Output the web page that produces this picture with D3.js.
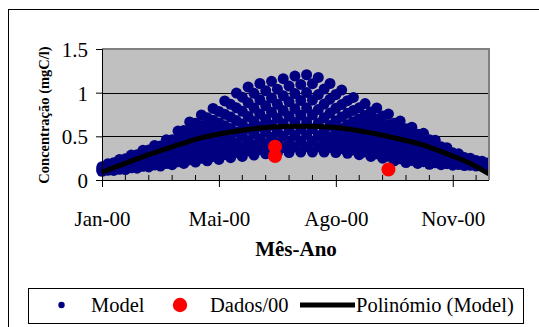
<html>
<style>
  body { margin: 0; background: #ffffff; }
</style>
<script src="https://d3js.org/d3.v7.min.js"></script>
<body>
<svg id="chart" width="539" height="327"></svg>
</body>
<script>
  const FONT = "Liberation Serif"

  // x axis counts days from the first tick (Jan-00)
  const xTickDays = [0, 100, 200, 300]
  const xTickLabels = ['Jan-00', 'Mai-00', 'Ago-00', 'Nov-00']
  const xMinorDays = [20, 40, 60, 80, 120, 140, 160, 180, 220, 240, 260, 280, 320]
  const yTicks = [0, 0.5, 1, 1.5]

  // model cloud, read as bands from bottom to top; two interleaved day grids
  const modelDaysA = [0,10,20,30,40,50,60,70,80,90,100,110,120,130,140,150,160,170,180,190,200,210,220,230,240,250,260,270,280,290,300,310,320,330]
  const modelDaysB = [5,15,25,35,45,55,65,75,85,95,105,115,125,135,145,155,165,175,185,195,205,215,225,235,245,255,265,275,285,295,305,315,325]
  const modelA = [
    [.10,.11,.12,.135,.15,.16,.175,.19,.205,.22,.235,.255,.27,.285,.30,.31,.315,.32,.32,.32,.315,.305,.29,.27,.25,.22,.20,.19,.18,.175,.17,.165,.16,.155],
    [.108,.124,.14,.16,.181,.196,.221,.25,.276,.298,.323,.352,.378,.398,.415,.426,.436,.443,.445,.435,.421,.401,.375,.351,.327,.289,.262,.243,.225,.208,.192,.18,.17,.161],
    [.118,.14,.162,.188,.216,.238,.273,.319,.357,.388,.423,.464,.501,.527,.546,.559,.575,.584,.587,.566,.542,.511,.473,.444,.415,.367,.332,.304,.276,.246,.218,.197,.181,.169],
    [.129,.158,.187,.219,.256,.285,.331,.396,.447,.489,.535,.589,.64,.671,.694,.708,.73,.742,.747,.714,.677,.634,.583,.548,.514,.455,.411,.372,.334,.288,.247,.215,.194,.177],
    [.14,.177,.214,.252,.297,.334,.393,.478,.543,.595,.654,.721,.786,.824,.849,.866,.895,.91,.916,.869,.821,.764,.699,.659,.619,.548,.495,.445,.394,.332,.277,.235,.207,.185],
    [.153,.198,.243,.289,.344,.389,.461,.568,.649,.713,.785,.867,.948,.993,1.022,1.04,1.076,1.094,1.103,1.042,.979,.908,.827,.78,.734,.651,.587,.524,.462,.382,.311,.257,.222,.195]
  ]
  const modelB = [
    [.111,.123,.139,.157,.172,.188,.209,.231,.25,.269,.291,.314,.333,.35,.363,.372,.379,.382,.38,.373,.36,.343,.322,.30,.271,.243,.224,.21,.197,.187,.177,.169,.162],
    [.123,.141,.162,.186,.208,.232,.266,.301,.33,.358,.39,.424,.451,.472,.487,.5,.51,.515,.508,.491,.468,.441,.411,.384,.349,.312,.285,.262,.239,.216,.197,.182,.171],
    [.136,.162,.189,.22,.249,.282,.33,.38,.421,.459,.502,.549,.585,.61,.627,.644,.658,.665,.653,.625,.591,.551,.512,.48,.438,.391,.355,.322,.286,.25,.22,.197,.181],
    [.151,.183,.218,.256,.292,.335,.398,.465,.517,.566,.621,.681,.727,.756,.775,.796,.815,.824,.807,.767,.72,.667,.619,.582,.531,.475,.429,.385,.336,.286,.244,.213,.191],
    [.167,.207,.249,.295,.34,.393,.474,.558,.623,.684,.753,.827,.885,.919,.94,.966,.99,1.001,.978,.925,.864,.797,.738,.695,.635,.568,.511,.455,.392,.325,.27,.231,.203],
    [.185,.235,.285,.34,.395,.46,.56,.665,.745,.82,.905,.995,1.065,1.105,1.13,1.16,1.19,1.205,1.175,1.105,1.03,.945,.875,.825,.755,.675,.605,.535,.455,.37,.30,.25,.215]
  ]

  // measured data (Dados/00)
  const dadosDays = [148, 148, 245]
  const dadosValues = [0.38, 0.275, 0.12]

  // polynomial trendline of the model
  const polyDays = [0, 20, 40, 60, 84, 110, 140, 170, 200, 230, 254, 272, 295, 315, 331]
  const polyValues = [0.09, 0.19, 0.29, 0.38, 0.48, 0.55, 0.60, 0.615, 0.60, 0.54, 0.47, 0.41, 0.30, 0.19, 0.07]

  const legendLabels = ['Model', 'Dados/00', 'Polinómio (Model)']

  const svg = d3.select('#chart')
  const plot = {left: 102, right: 489, top: 49, bottom: 180}

  const x = d3.scaleLinear().domain([0, 331]).range([plot.left, plot.right])
  const y = d3.scaleLinear().domain([0, 1.5]).range([plot.bottom, plot.top])

  // outer chart frame (runs past the window on the right and bottom)
  svg.append('rect')
    .attr('x', 8.5).attr('y', 9.5)
    .attr('width', 560).attr('height', 340)
    .attr('fill', '#ffffff').attr('stroke', '#000000')

  // plot area
  svg.append('rect')
    .attr('x', plot.left).attr('y', plot.top)
    .attr('width', plot.right - plot.left).attr('height', plot.bottom - plot.top)
    .attr('fill', '#c0c0c0')

  svg.append('g')
    .selectAll('line')
    .data(yTicks.filter(d => d > 0 && d < 1.5))
    .enter().append('line')
    .attr('x1', plot.left).attr('x2', plot.right)
    .attr('y1', d => Math.round(y(d)) + 0.5).attr('y2', d => Math.round(y(d)) + 0.5)
    .attr('stroke', '#000000').attr('stroke-width', 1)

  svg.append('clipPath').attr('id', 'clip')
    .append('rect')
    .attr('x', plot.left - 6).attr('y', plot.top)
    .attr('width', plot.right - plot.left + 7).attr('height', plot.bottom - plot.top + 8)

  let modelPoints = []
  modelA.forEach(s => s.forEach((v, i) => modelPoints.push([modelDaysA[i], v])))
  modelB.forEach(s => s.forEach((v, i) => modelPoints.push([modelDaysB[i], v])))

  svg.append('g').attr('clip-path', 'url(#clip)')
    .selectAll('circle')
    .data(modelPoints)
    .enter().append('circle')
    .attr('cx', d => x(d[0]))
    .attr('cy', d => y(d[1]))
    .attr('r', 5.5)
    .attr('fill', '#000080')

  svg.append('g')
    .selectAll('circle')
    .data(dadosDays.map((d, i) => [d, dadosValues[i]]))
    .enter().append('circle')
    .attr('cx', d => x(d[0]))
    .attr('cy', d => y(d[1]))
    .attr('r', 7)
    .attr('fill', '#ff0000')

  let line = d3.line()
    .x((d, i) => x(d))
    .y((d, i) => y(polyValues[i]))
    .curve(d3.curveCatmullRom)

  svg.append('path')
    .attr('d', line(polyDays))
    .attr('fill', 'none')
    .attr('stroke', '#000000')
    .attr('stroke-width', 5)

  // plot area border, gray on top and right
  svg.append('path')
    .attr('d', `M${plot.left},${plot.top} H${plot.right} V${plot.bottom}`)
    .attr('fill', 'none')
    .attr('stroke', '#808080')
    .attr('stroke-width', 2)

  // y axis
  let yAxis = d3.axisLeft(y)
    .tickValues(yTicks)
    .tickFormat(d3.format('~g'))
    .tickSize(6)
    .tickPadding(8)
  let gy = svg.append('g')
    .attr('transform', `translate(${plot.left},0)`)
    .call(yAxis)
  gy.selectAll('text')
    .attr('font-family', FONT)
    .attr('font-size', 21)
    .attr('dy', '0.35em')

  // x axis: major ticks cross the axis, minor ticks sit inside
  let xAxis = d3.axisBottom(x)
    .tickValues(xTickDays)
    .tickFormat((d, i) => xTickLabels[i])
    .tickSize(7)
    .tickSizeOuter(0)
    .tickPadding(24)
  let gx = svg.append('g')
    .attr('transform', `translate(0,${plot.bottom})`)
    .call(xAxis)
  gx.select('.domain').attr('d', `M${plot.left},0.5H${plot.right}`)
  gx.selectAll('.tick line').attr('y1', -5)
  gx.selectAll('text')
    .attr('font-family', FONT)
    .attr('font-size', 21)

  svg.append('g')
    .selectAll('line')
    .data(xMinorDays)
    .enter().append('line')
    .attr('x1', d => x(d)).attr('x2', d => x(d))
    .attr('y1', plot.bottom - 5).attr('y2', plot.bottom)
    .attr('stroke', '#000000')

  // axis titles
  svg.append('text')
    .attr('x', 296).attr('y', 256)
    .attr('text-anchor', 'middle')
    .attr('font-family', FONT)
    .attr('font-size', 21).attr('font-weight', 'bold')
    .text('Mês-Ano')

  svg.append('text')
    .attr('transform', 'translate(49,115) rotate(-90)')
    .attr('text-anchor', 'middle')
    .attr('font-family', FONT)
    .attr('font-size', 14.5).attr('font-weight', 'bold')
    .text('Concentração (mgC/l)')

  // legend
  let legend = svg.append('g')
  legend.append('rect')
    .attr('x', 28.5).attr('y', 288.5)
    .attr('width', 495).attr('height', 35)
    .attr('fill', '#ffffff').attr('stroke', '#000000')

  legend.append('circle').attr('cx', 61.5).attr('cy', 305).attr('r', 3.2).attr('fill', '#000080')
  legend.append('circle').attr('cx', 180).attr('cy', 305).attr('r', 7.2).attr('fill', '#ff0000')
  legend.append('line')
    .attr('x1', 300).attr('x2', 355).attr('y1', 305).attr('y2', 305)
    .attr('stroke', '#000000').attr('stroke-width', 5)

  legend.selectAll('text.lbl')
    .data(legendLabels)
    .enter().append('text')
    .attr('class', 'lbl')
    .attr('x', (d, i) => [91, 210, 356][i])
    .attr('y', 312)
    .attr('font-family', FONT)
    .attr('font-size', 20.5)
    .text(d => d)
</script>
</html>
